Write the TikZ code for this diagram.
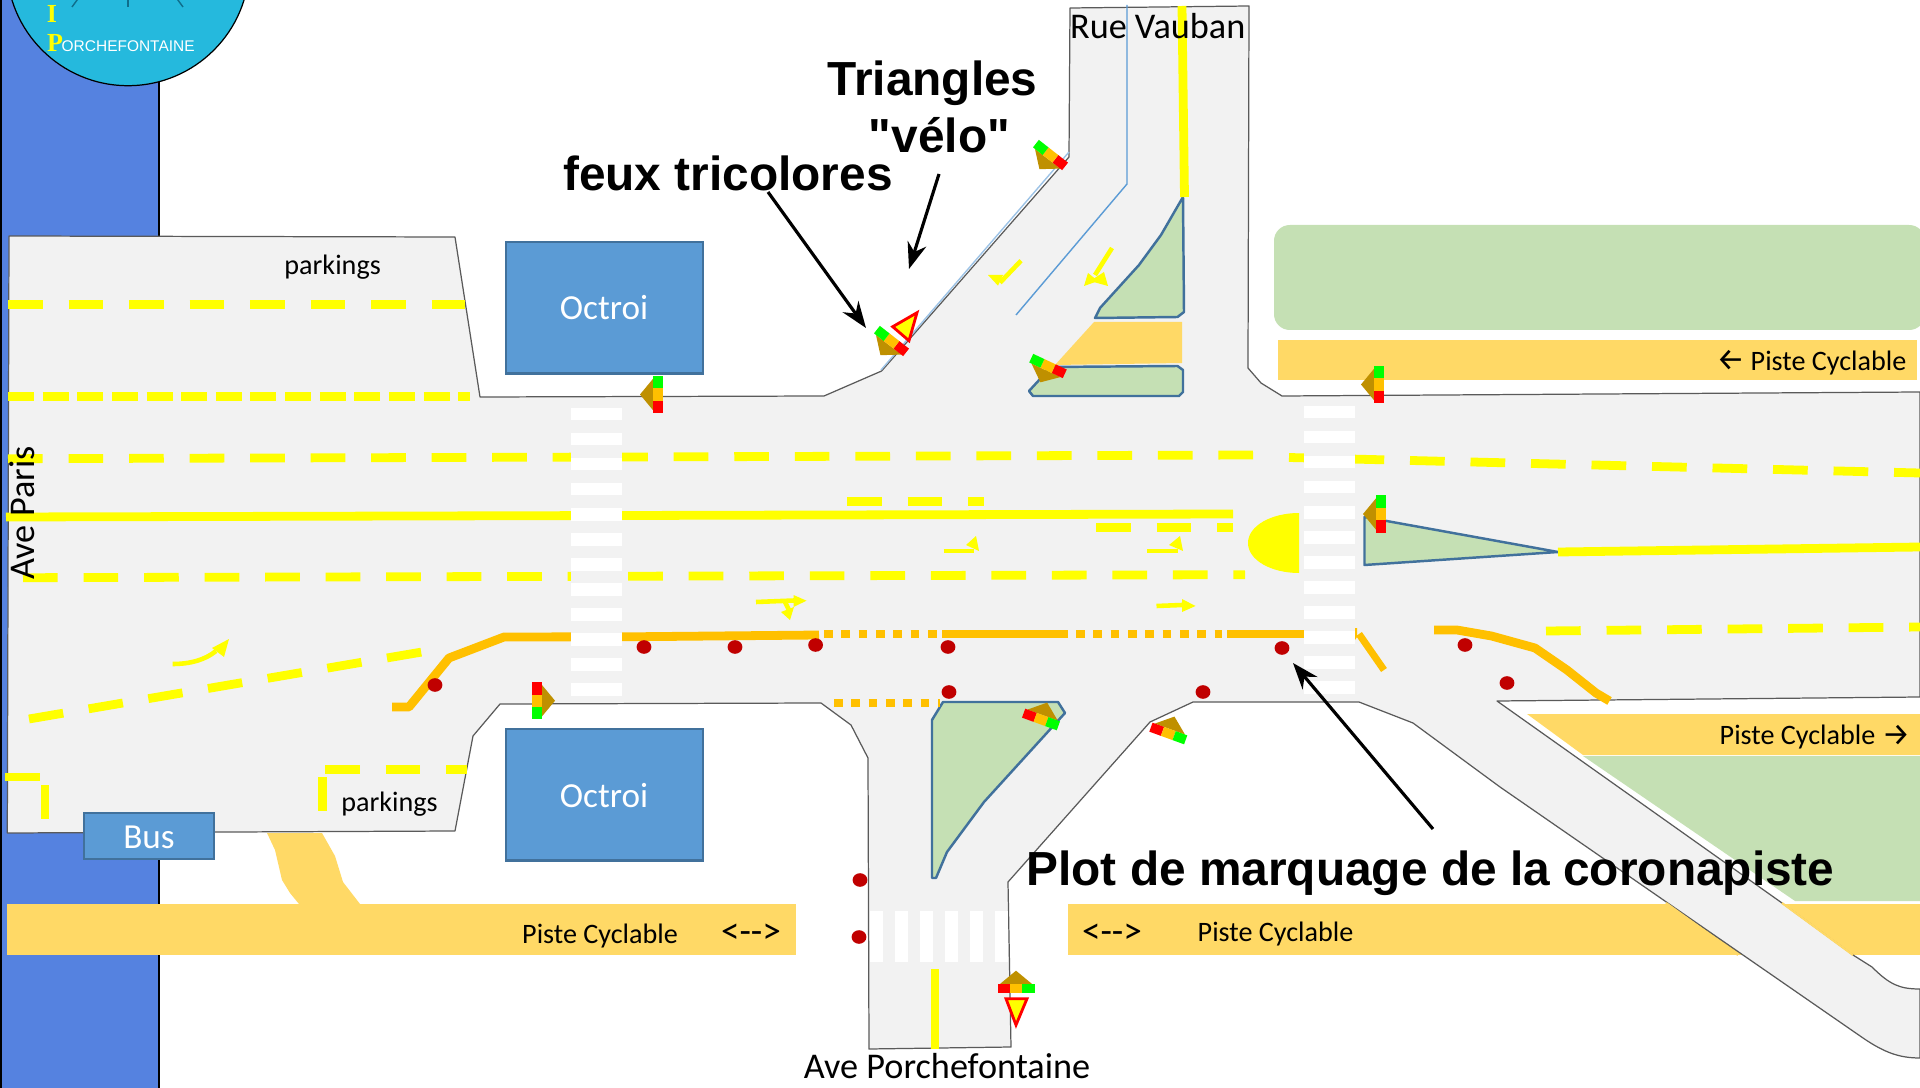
\documentclass[tikz,border=0pt]{standalone}
\usepackage{fontspec}
\usetikzlibrary{arrows.meta}
\newfontfamily\calfont{Carlito}
\newfontfamily\arialfont{Liberation Sans}
\newfontfamily\timesfont{Liberation Serif}
\newfontfamily\arrowfont{Fira Sans}
\definecolor{stripblue}{HTML}{5582E0}
\definecolor{logocyan}{HTML}{25B9DD}
\definecolor{spoke}{HTML}{0F6E8C}
\definecolor{roadgray}{HTML}{F2F2F2}
\definecolor{roadedge}{HTML}{5A5A5A}
\definecolor{paleorange}{HTML}{FFD966}
\definecolor{coro}{HTML}{FFC000}
\definecolor{isle}{HTML}{C5E0B4}
\definecolor{isleedge}{HTML}{41719C}
\definecolor{boxblue}{HTML}{5B9BD5}
\definecolor{thinblue}{HTML}{5B9BD5}
\definecolor{paleblue}{HTML}{9DC3E6}
\definecolor{plot}{HTML}{C00000}
\definecolor{brownfeu}{HTML}{BF9000}
\definecolor{sigyellow}{HTML}{FFFF00}
\tikzset{
  road/.style={fill=roadgray,draw=roadedge,line width=0.35pt,line join=round},
  isleshape/.style={fill=isle,draw=isleedge,line width=0.7pt,line join=round},
  yline/.style={draw=sigyellow,line width=2.5pt},
  ydash/.style={yline,dash pattern=on 9.87pt off 7.34pt},
  ydashshort/.style={yline,dash pattern=on 7.4pt off 2.45pt},
  corosolid/.style={draw=coro,line width=2.5pt,line join=round},
  corodot/.style={corosolid,dash pattern=on 2.48pt off 2.45pt},
  stem/.style={draw=sigyellow,line width=1.3pt},
  stripe/.style={fill=white},
  boxblock/.style={fill=boxblue,draw=isleedge,line width=0.6pt},
  plotdot/.style={fill=plot},
  warn/.style={fill=sigyellow,draw=red,line width=0.8pt,line join=miter},
  note/.style={-{Stealth[length=7.5pt,width=5.5pt]},black,line width=0.9pt},
  boldlab/.style={font=\arialfont\bfseries\fontsize{13.6}{14}\selectfont,inner sep=0pt,anchor=base,text=black},
  lab/.style={font=\calfont\fontsize{10.3}{11}\selectfont,inner sep=0pt,anchor=base,text=black},
  smalllab/.style={font=\calfont\fontsize{8}{9}\selectfont,inner sep=0pt,anchor=base,text=black},
  boxlab/.style={font=\calfont\fontsize{10}{11}\selectfont,inner sep=0pt,anchor=base,text=white},
  arrowlab/.style={font=\arrowfont\fontsize{9}{10}\selectfont,inner sep=0pt,text=black},
  feu/.pic={
    \fill[brownfeu] (0,-18) -- (-16,-4.75) -- (16,-4.75) -- cycle;
    \fill[red] (-18.5,-4.75) rectangle (-6.2,4.75);
    \fill[coro] (-6.2,-4.75) rectangle (6.2,4.75);
    \fill[green] (6.2,-4.75) rectangle (18.5,4.75);
  }
}
\begin{document}
\begin{tikzpicture}[x=0.01cm,y=-0.01cm]
\useasboundingbox (0,0) rectangle (1920,1088);
\clip (0,0) rectangle (1920,1088);
% water strip
\fill[stripblue] (0,0) rectangle (159,1088);
\draw[black,line width=0.35pt] (159,0) -- (159,1088);
\draw[black,line width=0.35pt] (1,0) -- (1,1088);
% fields and cycle tracks
\fill[isle,rounded corners=4.5pt] (1274,225) rectangle (1925,330);
\fill[paleorange] (1277.5,340) rectangle (1917,380);
\fill[paleorange] (1527,714) -- (1920,714) -- (1920,755) -- (1583,755) -- cycle;
\fill[isle] (1583,756) -- (1920,756) -- (1920,901) -- (1795,901) -- cycle;
\fill[paleorange] (7,904) rectangle (796,955);
\fill[paleorange] (1068,904) rectangle (1920,955);
% road
\path[road] (9,236) -- (455,237) -- (480,397) -- (824,396) -- (881.6,371) -- (1069,157) -- (1070,8)
  -- (1249,6) -- (1248,368) -- (1261,383) -- (1282,396) -- (1920,392) -- (1920,697) -- (1497,701)
  -- (1782,903) -- (1853,955) -- (1872,967) .. controls (1890,985) and (1900,989) .. (1920,989)
  -- (1920,1058) .. controls (1900,1058) and (1885,1053) .. (1863,1038)
  -- (1500,787) -- (1413,723) -- (1359,702) -- (1193,702) -- (1150,722) -- (1008,882) -- (1011,1047)
  -- (869,1049) -- (868,758) -- (851,725) -- (821,703) -- (500,704) -- (473,736) -- (455,831)
  -- (7.3,833) -- cycle;
\draw[paleorange,line width=0.6pt] (1666,903) -- (1738,955);
\draw[paleorange,line width=0.6pt] (1782,903) -- (1853,955);
% connector between road and the cycle track
\fill[paleorange] (267,833) -- (322,833) -- (335,856) -- (343,882) -- (360,904) -- (299,904)
  -- (290,893) -- (282,880) -- (275,850) -- cycle;
% logo
\draw[fill=logocyan,draw=black,line width=0.35pt] (128,-35.7) circle [radius=121.4];
\draw[spoke,line width=0.4pt] (72,7) -- (80,-4);
\draw[spoke,line width=0.4pt] (128,7) -- (128,-4);
\draw[spoke,line width=0.4pt] (183,7) -- (175,-4);
\node[font=\timesfont\bfseries\fontsize{7.4}{8}\selectfont,text=sigyellow,inner sep=0pt,anchor=base] (logoI) at (52,23) {I};
\node[font=\timesfont\bfseries\fontsize{7.4}{8}\selectfont,text=sigyellow,inner sep=0pt,anchor=base] (logoP) at (55,52) {P};
\node[font=\arialfont\fontsize{4.4}{5}\selectfont,text=white,inner sep=0pt,anchor=base west] (logoT) at (61,52) {ORCHEFONTAINE};
% islands
\path[isleshape] (1183,197) -- (1161,235) -- (1139,265) -- (1100,308) -- (1095,318) -- (1177.5,317) -- (1184,312) -- cycle;
\path[isleshape] (1033,396) -- (1029,391) -- (1041,378) -- (1049,367) -- (1177.5,366) -- (1183,370) -- (1183,392) -- (1179,396) -- cycle;
\fill[paleorange] (1094,322) -- (1182,322) -- (1182,363) -- (1055,365) -- cycle;
\path[isleshape] (943,702) -- (1058,702) -- (1065,713) -- (984,802) -- (947,852) -- (936,878) -- (932,878) -- (932,720) -- cycle;
\path[isleshape] (1364.5,517) -- (1558,552) -- (1364.5,565) -- cycle;
% thin lane lines
\draw[paleblue,line width=0.4pt] (881,370) -- (1069,152);
\draw[thinblue,line width=0.4pt] (1127,5) -- (1127,184) -- (1016,315);
% yellow markings
\path[ydash] (8,304.5) -- (464.5,304.5);
\path[ydashshort] (8,396.7) -- (470,396.7);
\path[ydash] (8,458.7) -- (622,457) -- (1253,455);
\path[ydash] (1289,457.5) -- (1920,473);
\path[yline] (6,517) -- (1233,514);
\path[ydash] (23,577.7) -- (1245,574.7);
\path[ydash] (847,501.7) -- (984,501.7);
\path[ydash] (1096,527.7) -- (1233,527.7);
\path[ydash] (29,719) -- (422,652);
\path[yline] (5,777) -- (40,777);
\path[yline] (45,785) -- (45,819);
\path[ydash] (325,769.3) -- (466.5,769.3);
\path[yline] (322.5,777) -- (322.5,811);
\path[yline] (1182,6) -- (1184.5,197);
\path[yline] (935,969) -- (935,1049);
\path[yline] (1558,552) -- (1920,547);
\path[ydash] (1546,631) -- (1920,627);
% bicycle lane (orange)
\path[corosolid] (392,707) -- (409,707) -- (449,658) -- (504,637) -- (640,636.7) -- (819,635);
\path[corodot] (824,634) -- (937,634);
\path[corosolid] (942,634) -- (1068,634);
\path[corodot] (1076,634) -- (1222,634);
\path[corosolid] (1227,634) -- (1304,634);
\path[corosolid,line width=2pt] (1359,634) -- (1384,670);
\path[corosolid] (1434,630) -- (1457,630) -- (1491.5,636) -- (1535,648) -- (1567,670) -- (1596,693) -- (1609.5,701);
\path[corodot] (834,703) -- (940,703);
% pedestrian crossings
\fill[roadgray] (571,400) rectangle (622,702);
\fill[roadgray] (1304,397) rectangle (1355,700);
\fill[coro] (1355,628) -- (1357,628) -- (1357,637) -- (1355,640) -- cycle;
\foreach \yy in {408,433,...,683} {\fill[stripe] (571,\yy) rectangle (622,\yy+12.5);}
\foreach \yy in {381,406,...,681} {\fill[stripe] (1304,\yy) rectangle (1355,\yy+12.5);}
\foreach \xx in {870,895,...,995} {\fill[stripe] (\xx,911) rectangle (\xx+12.5,962);}
% stop bump
\fill[sigyellow] (1299,513) .. controls (1271,513) and (1248,526) .. (1248,543)
  .. controls (1248,560) and (1271,573) .. (1299,573) -- cycle;
% small yellow arrows
\path[stem] (172.7,664) .. controls (190,664) and (205,660) .. (216,651);
\fill[sigyellow] (229,639) -- (212,648) -- (224,657) -- cycle;
\path[stem] (943.5,551) -- (974,551);
\fill[sigyellow] (976,536) -- (966,545) -- (979,551) -- cycle;
\path[stem] (1147,551) -- (1178,551);
\fill[sigyellow] (1180,536) -- (1169,545) -- (1183,551) -- cycle;
\path[stem] (756,602) -- (794,600.5);
\fill[sigyellow] (806.5,600.7) -- (793.5,595) -- (793.5,607) -- cycle;
\path[stem] (785,602) -- (790,612);
\fill[sigyellow] (790,620) -- (781,612) -- (794,607) -- cycle;
\path[stem] (1156.5,606) -- (1182,605);
\fill[sigyellow] (1195.5,606) -- (1182,599) -- (1182,612) -- cycle;
\path[stem] (1021,260.7) -- (1000,282.7);
\fill[sigyellow] (998,285.7) -- (988,275) -- (1003,275) -- cycle;
\path[stem] (1112,248) -- (1095,275);
\fill[sigyellow] (1084,286) -- (1088,273) -- (1098,281) -- cycle;
\fill[sigyellow] (1108,286) -- (1104,272) -- (1090,281) -- cycle;
% marker posts
\foreach \xx/\yy in {435/685,644/647,735/647,815.6/645,948/647,1282/648,949/692,1203/692,860/880,859/937,1465/645,1507/683}
  {\fill[plotdot] (\xx,\yy) ellipse [x radius=7.4,y radius=6.8];}
% traffic lights
\pic[rotate=0] at (1016,988.7) {feu};
\pic[rotate=-20] at (1041,719.5) {feu};
\pic[rotate=-20] at (1168.3,733.5) {feu};
\pic[rotate=-90] at (537,700.7) {feu};
\pic[rotate=90] at (658,394.5) {feu};
\pic[rotate=90] at (1379,384.5) {feu};
\pic[rotate=90] at (1381,514) {feu};
\pic[rotate=142] at (1050.5,155) {feu};
\pic[rotate=142] at (891.5,341) {feu};
\pic[rotate=155] at (1048,366) {feu};
% warning triangles
\path[warn] (1006,998.7) -- (1027,998.7) -- (1016,1025) -- cycle;
\path[warn] (892.7,326.7) -- (917,312.7) -- (909,340.7) -- cycle;
% blocks
\path[boxblock] (506,242) rectangle (703,373.5);
\path[boxblock] (506,729) rectangle (703,860.5);
\path[boxblock] (84,813) rectangle (214,859);
% labels
\node[boxlab] (oct1) at (604,320) {Octroi};
\node[boxlab] (oct2) at (604,807) {Octroi};
\node[boxlab] (bus) at (149,848) {Bus};
\node[smalllab] (park1) at (332.6,275) {parkings};
\node[smalllab] (park2) at (389.5,811.5) {parkings};
\node[lab] (vauban) at (1157.7,39) {Rue Vauban};
\node[lab] (porche) at (947,1078) {Ave Porchefontaine};
\node[lab,rotate=90] (paris) at (34.7,513) {Ave Paris};
\node[smalllab] (pc1) at (1828.5,370) {Piste Cyclable};
\node[smalllab] (pc2) at (1797.5,744.5) {Piste Cyclable};
\node[smalllab] (pc3) at (600,943) {Piste Cyclable};
\node[smalllab] (pc4) at (1275.5,941.5) {Piste Cyclable};
\node[arrowlab] (ar1) at (1730.5,360) {←};
\node[arrowlab] (ar2) at (1896,735) {→};
\node[lab,font=\calfont\fontsize{10.6}{11}\selectfont] (dbl1) at (751,943) {<-{}->};
\node[lab,font=\calfont\fontsize{10.6}{11}\selectfont] (dbl2) at (1112,943) {<-{}->};
\node[boldlab] (tri) at (932.5,96) {Triangles};
\node[boldlab] (velo) at (939.5,152.5) {"vélo"};
\node[boldlab] (feux) at (728,190.5) {feux tricolores};
\node[boldlab] (plotlab) at (1430.5,885) {Plot de marquage de la coronapiste};
% callouts
\coordinate (c1a) at (939,174); \coordinate (c1b) at (909,269);
\coordinate (c2a) at (768,192); \coordinate (c2b) at (866,328);
\coordinate (c3a) at (1433,829); \coordinate (c3b) at (1293,663);
\draw[note] (c1a) -- (c1b);
\draw[note] (c2a) -- (c2b);
\draw[note] (c3a) -- (c3b);
\end{tikzpicture}
\end{document}
